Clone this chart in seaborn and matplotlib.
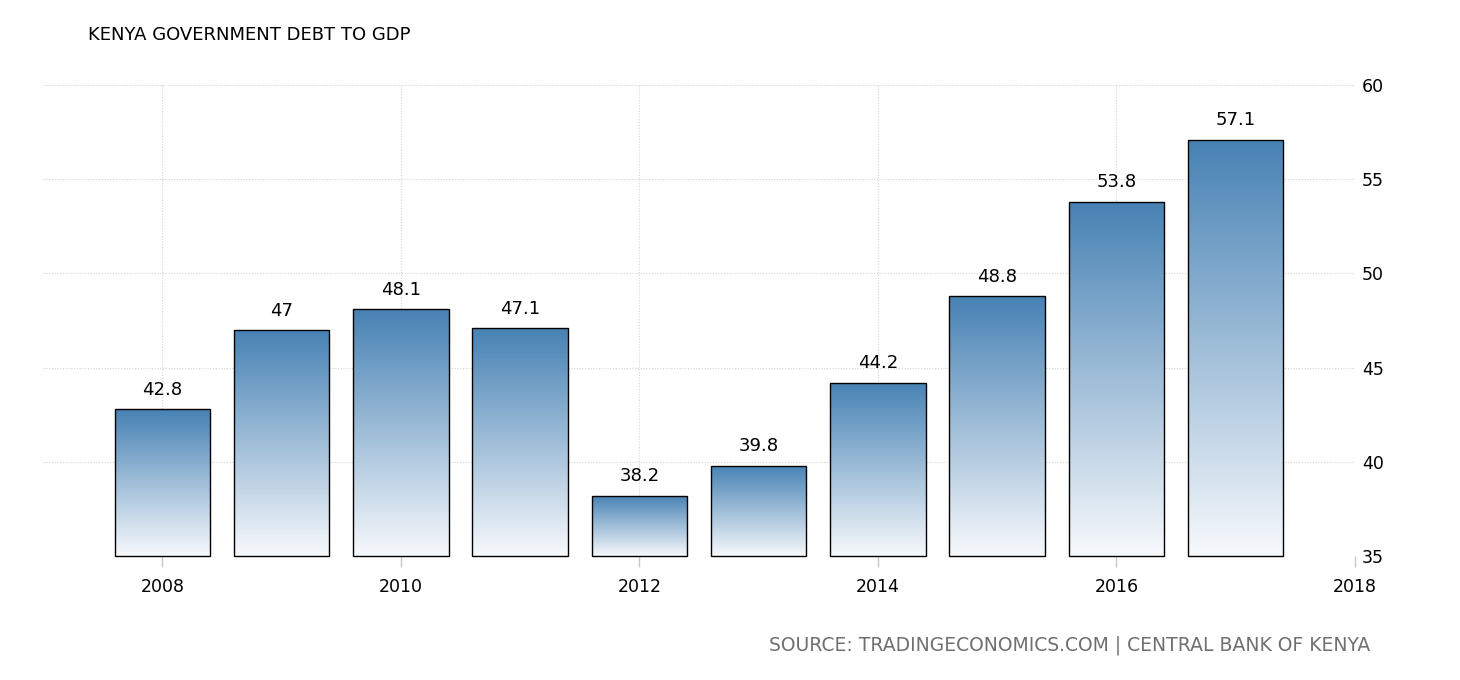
import numpy as np
import pandas as pd
import matplotlib
matplotlib.use("Agg")
import matplotlib.pyplot as plt
from matplotlib.colors import LinearSegmentedColormap
import seaborn as sns

years = [2008, 2009, 2010, 2011, 2012, 2013, 2014, 2015, 2016, 2017]
debt = [42.8, 47.0, 48.1, 47.1, 38.2, 39.8, 44.2, 48.8, 53.8, 57.1]
labels = ["42.8", "47", "48.1", "47.1", "38.2", "39.8", "44.2", "48.8", "53.8", "57.1"]
xticks = [2008, 2010, 2012, 2014, 2016, 2018]
yticks = [35, 40, 45, 50, 55, 60]
title = "KENYA GOVERNMENT DEBT TO GDP"
source = "SOURCE: TRADINGECONOMICS.COM | CENTRAL BANK OF KENYA"

df = pd.DataFrame({"year": years, "debt": debt})

sns.set_theme(style="white")
plt.rcParams["font.family"] = ["DejaVu Sans"]

fig = plt.figure(figsize=(14.6, 6.8), dpi=100)
ax = fig.add_axes([43 / 1460, 1 - 556 / 680, (1355 - 43) / 1460, (556 - 85) / 680])

sns.barplot(data=df, x="year", y="debt", native_scale=True, width=0.8,
            color="#4682b4", edgecolor="black", linewidth=1.0, ax=ax, zorder=3)

ymin, ymax = 35, 60
cmap = LinearSegmentedColormap.from_list("g", ["#f7f9fc", "#4782b4"])
grad = np.linspace(0, 1, 256).reshape(-1, 1)
for p in list(ax.patches):
    x0 = p.get_x()
    w = p.get_width()
    top = p.get_y() + p.get_height()
    # show the bar from the visible axis floor so its outline is closed
    p.set_y(ymin)
    p.set_height(top - ymin)
    im = ax.imshow(grad, cmap=cmap, origin="lower", aspect="auto",
                   extent=[x0, x0 + w, ymin, top], zorder=2, interpolation="bilinear")
    im.set_clip_path(p)
    p.set_facecolor("none")
    p.set_clip_on(False)

for x, v, lab in zip(years, debt, labels):
    ax.text(x, v + 0.55, lab, ha="center", va="bottom", fontsize=13, color="black", zorder=5)

ax.set_xlim(2007, 2018)
ax.set_ylim(ymin, ymax)
ax.set_xticks(xticks)
ax.set_xticklabels([str(t) for t in xticks], fontsize=12.5, color="black")
ax.set_yticks(yticks)
ax.set_yticklabels([str(t) for t in yticks], fontsize=12.5, color="black")
ax.yaxis.tick_right()
ax.tick_params(axis="y", length=0, pad=5)
ax.tick_params(axis="x", length=8, width=1, color="#c8c8c8", pad=8, bottom=True)
ax.grid(True, color="#d4d4d4", linestyle=(0, (1, 1.5)), linewidth=0.8, zorder=0)
ax.set_axisbelow(True)
for s in ax.spines.values():
    s.set_visible(False)
ax.set_xlabel("")
ax.set_ylabel("")

fig.text(88 / 1460, 1 - 35 / 680, title, fontsize=13, color="black", ha="left", va="center")
fig.text(1370 / 1460, 1 - 645 / 680, source, fontsize=13.5, color="#707070", ha="right", va="center")

fig.savefig("out.png", dpi=100)
